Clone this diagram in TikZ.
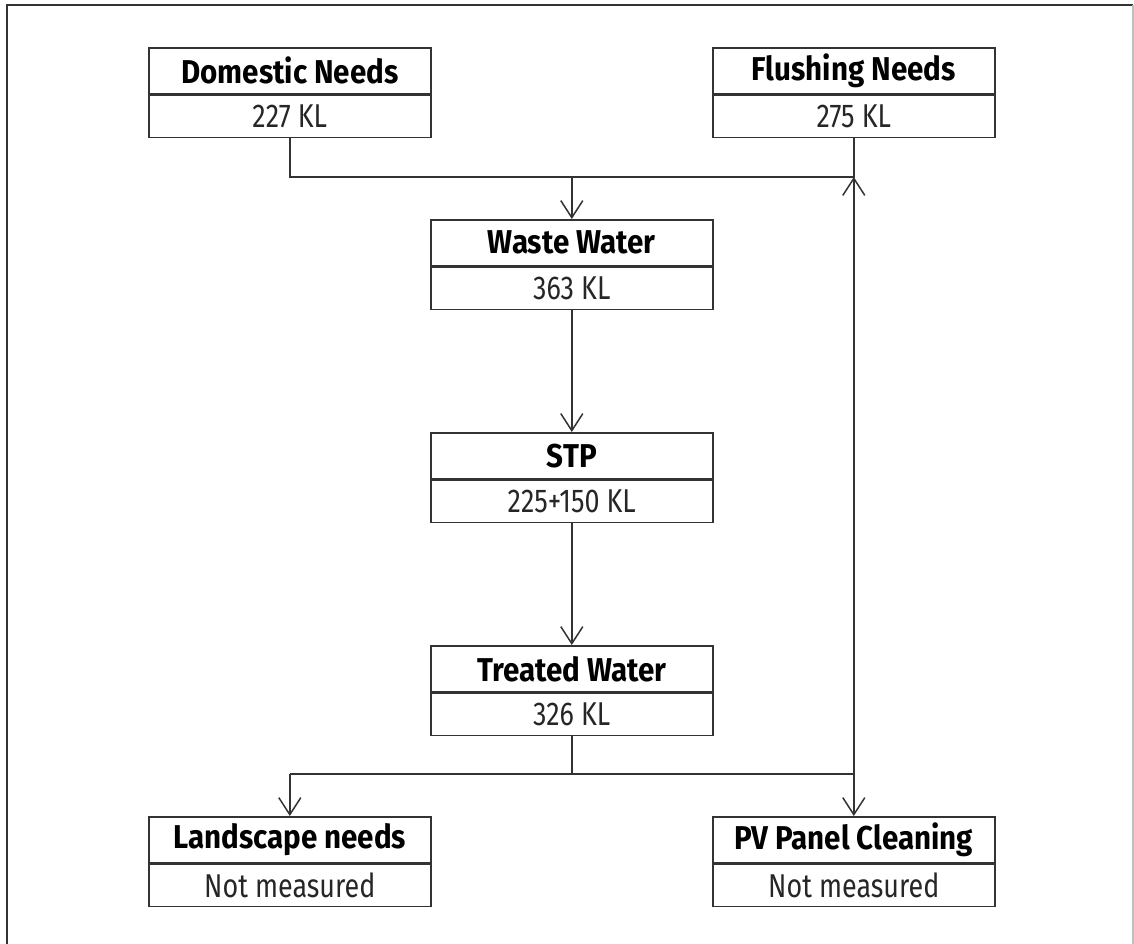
\documentclass[tikz,border=0pt]{standalone}
\usepackage{fontspec}
\setmainfont{Fira Sans}[FakeStretch=0.815, BoldFeatures={FakeStretch=0.895}]
\usetikzlibrary{arrows.meta}
\definecolor{ln}{HTML}{333333}
\tikzset{
  hdr/.style={draw=ln, line width=1.6pt, minimum width=282pt, minimum height=46pt, inner sep=0pt,
    font=\fontsize{33}{36}\selectfont\bfseries, text=black},
  val/.style={draw=ln, line width=1.6pt, minimum width=282pt, minimum height=42pt, inner sep=0pt,
    font=\fontsize{33}{36}\selectfont, text=black!85},
  conn/.style={draw=ln, line width=1.5pt},
  arr/.style={conn, -{Straight Barb[length=17pt,width=22pt,line width=1.5pt]}}
}
\begin{document}
\begin{tikzpicture}[x=1pt,y=-1pt]
\useasboundingbox (0,0) rectangle (1134,944);
% outer frame
\draw[ln, line width=2pt] (7,944) -- (7,5) -- (1133,5);
\draw[black!25, line width=1.5pt] (1133,5) -- (1133,944);
% boxes
\node[hdr, anchor=north west] (dom) at (148,47) {Domestic Needs};
\node[val, anchor=north] (domv) at (dom.south) {227 KL};
\node[hdr, anchor=north west] (fl) at (712,47) {Flushing Needs};
\node[val, anchor=north] (flv) at (fl.south) {275 KL};
\node[hdr, anchor=north west] (ww) at (430,219) {Waste Water};
\node[val, anchor=north] (wwv) at (ww.south) {363 KL};
\node[hdr, anchor=north west] (stp) at (430,432) {STP};
\node[val, anchor=north] (stpv) at (stp.south) {225+150 KL};
\node[hdr, anchor=north west] (tr) at (430,645) {Treated Water};
\node[val, anchor=north] (trv) at (tr.south) {326 KL};
\node[hdr, anchor=north west] (land) at (148,816) {Landscape needs};
\node[val, anchor=north] (landv) at (land.south) {Not measured};
\node[hdr, anchor=north west] (pv) at (712,816) {PV Panel Cleaning};
\node[val, anchor=north] (pvv) at (pv.south) {Not measured};
% junction levels
\coordinate (top) at (0,177);
\coordinate (bot) at (0,774);
% connectors
\draw[conn] (domv.south) |- (flv.south |- top) -- (flv.south);
\draw[arr] (ww.north |- top) -- (ww.north);
\draw[arr] (wwv.south) -- (stp.north);
\draw[arr] (stpv.south) -- (tr.north);
\draw[conn] (trv.south) -- (trv.south |- bot);
\draw[conn] (land.north |- bot) -- (pv.north |- bot);
\draw[arr] (land.north |- bot) -- (land.north);
\draw[arr] (pv.north |- bot) -- (pv.north);
\draw[arr] (pv.north |- bot) -- (flv.south |- top);
\end{tikzpicture}
\end{document}
